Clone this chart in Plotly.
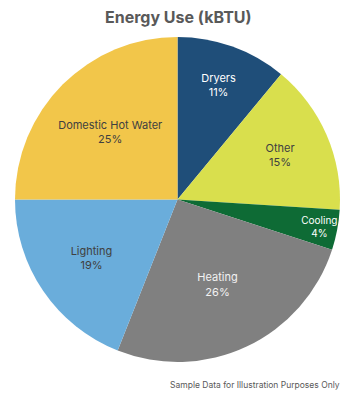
import plotly.graph_objects as go

labels = ["Dryers", "Other", "Cooling", "Heating", "Lighting", "Domestic Hot Water"]
values = [11, 15, 4, 26, 19, 25]
colors = ["#1f4e79", "#d9df4d", "#0e6b35", "#808080", "#6aaddb", "#f2c64a"]
text_colors = ["#ffffff", "#404040", "#ffffff", "#f2f2f2", "#404040", "#404040"]
text_sizes = [11, 11, 10, 11, 11, 11]

W, H = 357, 396
fig = go.Figure(go.Pie(
    labels=labels,
    values=values,
    sort=False,
    direction="clockwise",
    rotation=0,
    marker=dict(colors=colors, line=dict(width=0)),
    texttemplate="%{label}<br>%{percent:.0%}",
    textposition="inside",
    insidetextorientation="horizontal",
    textfont=dict(family="Inter, Lato, sans-serif", size=text_sizes, color=text_colors),
    domain=dict(x=[15 / W, 340 / W], y=[1 - 362 / H, 1 - 37 / H]),
    showlegend=False,
    hoverinfo="label+percent",
))

fig.update_layout(
    width=W, height=H,
    margin=dict(l=0, r=0, t=0, b=0),
    paper_bgcolor="white",
    plot_bgcolor="white",
    uniformtext=dict(minsize=10, mode="show"),
    annotations=[
        dict(text="<b>Energy Use (kBTU)</b>", x=0.5, y=1 - 17 / H, xref="paper", yref="paper",
             xanchor="center", yanchor="middle", showarrow=False,
             font=dict(family="Inter, Lato, sans-serif", size=16, color="#595959")),
        dict(text="Sample Data for Illustration Purposes Only", x=342 / W, y=1 - 385 / H,
             xref="paper", yref="paper", xanchor="right", yanchor="middle", showarrow=False,
             font=dict(family="Inter, Lato, sans-serif", size=8.5, color="#595959")),
    ],
)

fig.write_html("out.html")
